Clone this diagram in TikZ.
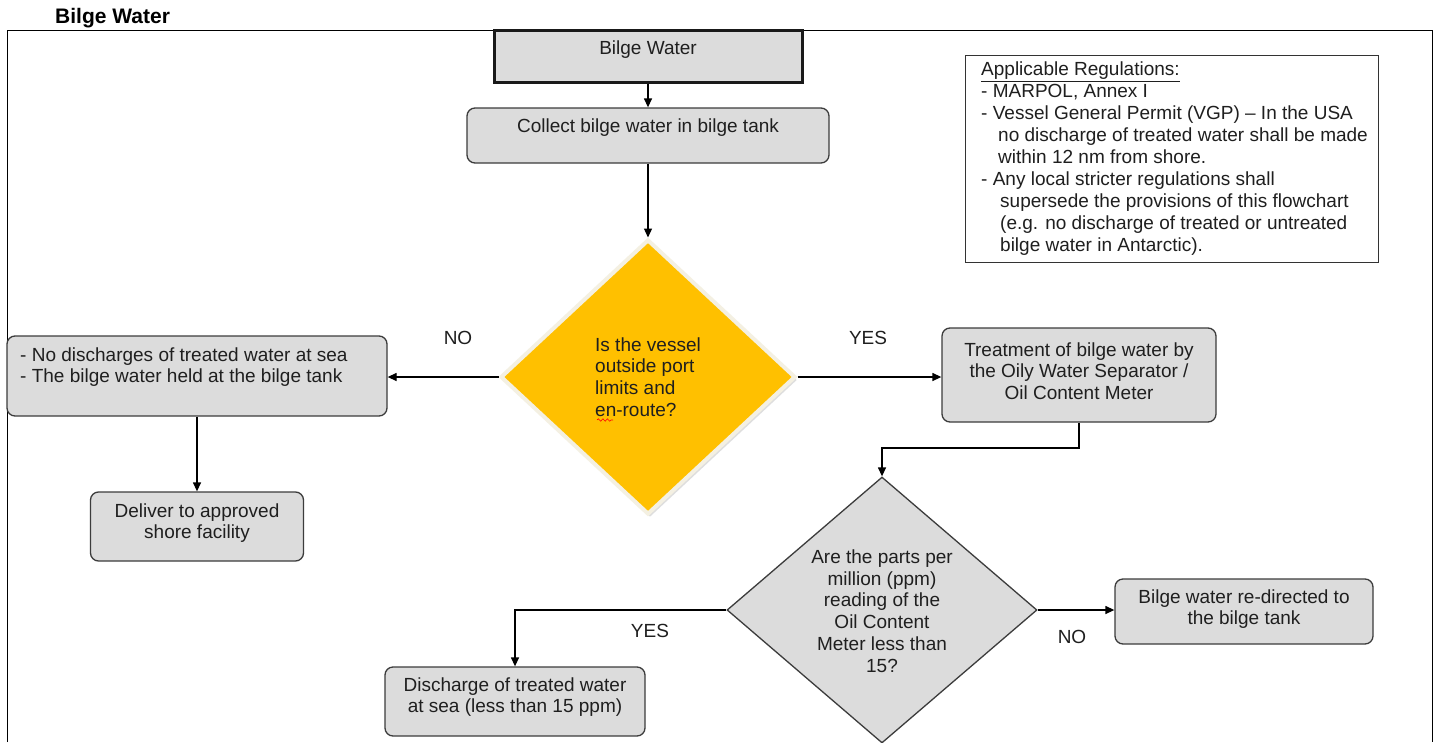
\documentclass[tikz,border=0pt]{standalone}
\usepackage{fontspec}
\setmainfont{Liberation Sans}
\usetikzlibrary{shapes.geometric,arrows.meta,shadows,decorations.pathmorphing,calc}
\definecolor{boxgray}{RGB}{220,220,220}
\definecolor{edgegray}{RGB}{60,60,60}
\definecolor{amber}{RGB}{255,192,0}
\definecolor{rimcol}{RGB}{244,240,226}
\begin{document}
\begin{tikzpicture}[x=1pt,y=-1pt,
  font=\fontsize{19}{21.7}\selectfont, text=black!88,
  box/.style={draw=edgegray, line width=1.3pt, fill=boxgray, rounded corners=8pt, inner sep=0pt},
  txt/.style={inner sep=0pt, align=center},
  arr/.style={-{Triangle[length=9pt,width=8pt]}, line width=1.3pt, draw=black},
  lbl/.style={inner sep=0pt},
  decision/.style={diamond, inner sep=0pt}]
\useasboundingbox (0,0) rectangle (1438,742);
\fill[white] (0,0) rectangle (1438,742);

% frame and title
\draw[line width=1pt] (7,742) -- (7,30) -- (1432,30) -- (1432,742);
\node[lbl, anchor=west, font=\bfseries\fontsize{21}{24}\selectfont, text=black] (title) at (55,18) {Bilge Water};

% top boxes
\node[box, rounded corners=0pt, line width=3pt, draw=black!90, minimum width=308pt, minimum height=52pt] (start) at (648,56) {};
\node[txt] (startT) at (648,50) {Bilge Water};
\node[box, minimum width=362pt, minimum height=55pt] (collect) at (648,135.5) {};
\node[txt] (collectT) at (648,128) {Collect bilge water in bilge tank};

% first decision
\node[decision, fill=amber, draw=rimcol, line width=4pt, minimum width=295pt, minimum height=275pt,
      drop shadow={shadow xshift=2pt, shadow yshift=-3pt, fill=black!25}] (q1) at (648,377) {};
\node[txt, align=left] (q1T) at (648,377) {Is the vessel\\outside port\\limits and\\en-route?};
\draw[red, line width=0.6pt, decorate, decoration={snake, amplitude=1.2pt, segment length=4.5pt}] (597,420) -- (613,420);

% left branch
\node[box, minimum width=380pt, minimum height=80pt] (hold) at (197,376) {};
\node[txt, align=left, anchor=west] (holdT) at (20,367) {- No discharges of treated water at sea\\- The bilge water held at the bilge tank};
\node[box, minimum width=213pt, minimum height=69pt] (deliver) at (197,526.5) {};
\node[txt] (deliverT) at (197,523) {Deliver to approved\\shore facility};

% right branch
\node[box, minimum width=274pt, minimum height=94pt] (treat) at (1079,375) {};
\node[txt] (treatT) at (1079,371) {Treatment of bilge water by\\the Oily Water Separator /\\Oil Content Meter};

% second decision
\node[decision, fill=boxgray, draw=edgegray, line width=1.3pt, minimum width=310pt, minimum height=266pt] (q2) at (882,610) {};
\node[txt] (q2T) at (882,611) {Are the parts per\\million (ppm)\\reading of the\\Oil Content\\Meter less than\\15?};

\node[box, minimum width=260pt, minimum height=69pt] (discharge) at (515,701.5) {};
\node[txt] (dischargeT) at (515,697) {Discharge of treated water\\at sea (less than 15 ppm)};
\node[box, minimum width=258pt, minimum height=65pt] (redirect) at (1244,611.5) {};
\node[txt] (redirectT) at (1244,609) {Bilge water re-directed to\\the bilge tank};

% regulations
\node[draw=black!80, line width=1pt, fill=white, minimum width=413pt, minimum height=207pt, inner sep=0pt] (regs) at (1171.5,158.5) {};
\node[txt, align=left, anchor=west, font=\fontsize{19}{21.9}\selectfont] (regsT) at (981,158.5) {\underline{Applicable Regulations:}\\
- MARPOL, Annex I\\
- Vessel General Permit (VGP) -- In the USA\\
\hspace*{17pt}no discharge of treated water shall be made\\
\hspace*{17pt}within 12 nm from shore.\\
- Any local stricter regulations shall\\
\hspace*{19pt}supersede the provisions of this flowchart\\
\hspace*{19pt}(e.g. no discharge of treated or untreated\\
\hspace*{19pt}bilge water in Antarctic).};

% connectors
\draw[arr] (start.south) -- (collect.north);
\draw[arr] (collect.south) -- (q1.north);
\draw[arr] (q1.west) -- (q1.west -| hold.east);
\draw[arr] (q1.east) -- (q1.east -| treat.west);
\draw[arr] (hold.south) -- (deliver.north);
\coordinate (bend) at (1079,448);
\draw[arr] (treat.south) -- (bend) -| (q2.north);
\draw[arr] (q2.west) -| (discharge.north);
\draw[arr] (q2.east) -- (q2.east -| redirect.west);

% labels
\node[lbl] (noA) at (458,338) {NO};
\node[lbl] (yesA) at (868,338) {YES};
\node[lbl] (yesB) at (650,631) {YES};
\node[lbl] (noB) at (1072,637) {NO};
\end{tikzpicture}
\end{document}
